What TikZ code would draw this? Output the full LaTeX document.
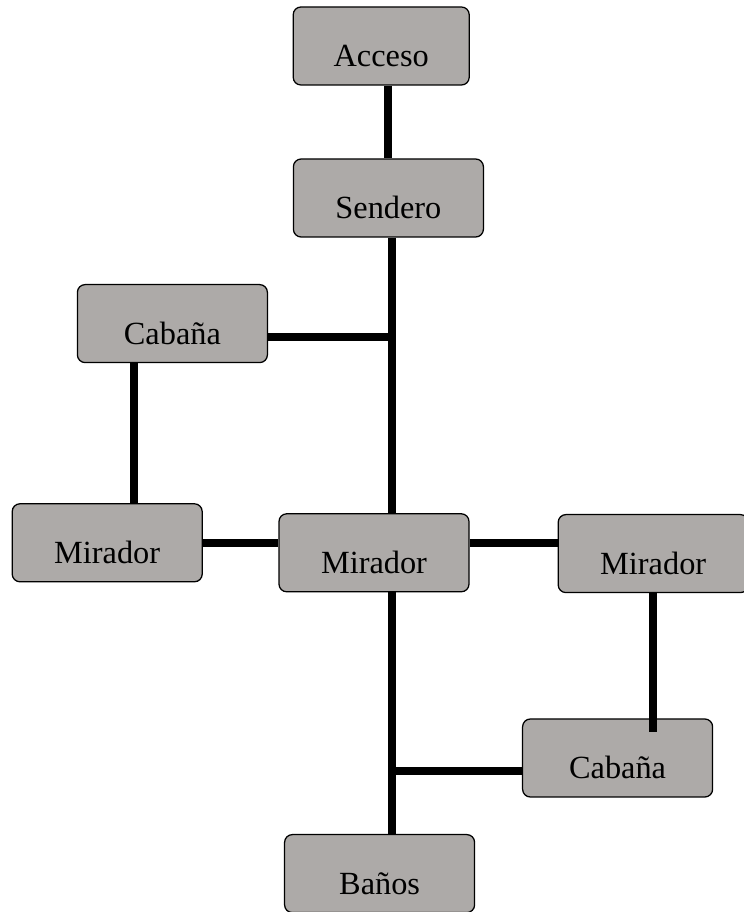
\documentclass[tikz,border=0pt]{standalone}
\usepackage{fontspec}
\setmainfont{Liberation Serif}
\usepackage{tikz}
\usetikzlibrary{positioning,calc}
\definecolor{piedra}{HTML}{ADAAA8}

\begin{document}
\begin{tikzpicture}[
  box/.style={draw=black,fill=piedra,rounded corners=5.5pt,line width=0.9pt,minimum width=4.75cm,minimum height=1.95cm,
    font=\fontsize{23}{27}\selectfont,text height=29.5pt,text depth=0pt,inner sep=2pt},
  link/.style={line width=5.8pt,color=black}]
  \useasboundingbox (0,0) rectangle (18.575,22.8);
  % sitios
  \node[box,minimum width=4.4cm] (acc) at (9.53,21.65) {Acceso};
  \node[box] (sen) at (9.71,17.85) {Sendero};
  \node[box] (cab1) at (4.31,14.71) {Cabaña};
  \node[box] (mir1) at (2.68,9.23) {Mirador};
  \node[box] (mir2) at (9.35,8.98) {Mirador};
  \node[box] (mir3) at (16.33,8.96) {Mirador};
  \node[box] (cab2) at (15.44,3.85) {Cabaña};
  \node[box] (ban) at (9.49,0.96) {Baños};
  % caminos
  \coordinate (tr) at (9.8,0);
  \coordinate (j1) at ([yshift=-0.34cm]cab1.east);
  \coordinate (j2) at ([xshift=-0.96cm]cab1.south);
  \coordinate (j3) at ([yshift=0.25cm]mir2.east);
  \coordinate (j4) at ([yshift=-0.35cm]cab2.north);
  \coordinate (j5) at ([yshift=-0.33cm]cab2.west);
  \draw[link] (acc.south -| sen) -- (sen.north);
  \draw[link] (sen.south -| tr) -- (mir2.north -| tr);
  \draw[link] (mir2.south -| tr) -- (ban.north -| tr);
  \draw[link] (j1) -- (j1 -| tr);
  \draw[link] (j2) -- (j2 |- mir1.north);
  \draw[link] (mir1.east) -- (mir1.east -| mir2.west);
  \draw[link] (j3) -- (j3 -| mir3.west);
  \draw[link] (mir3.south) -- (j4 -| mir3);
  \draw[link] (j5 -| tr) -- (j5);
\end{tikzpicture}
\end{document}
